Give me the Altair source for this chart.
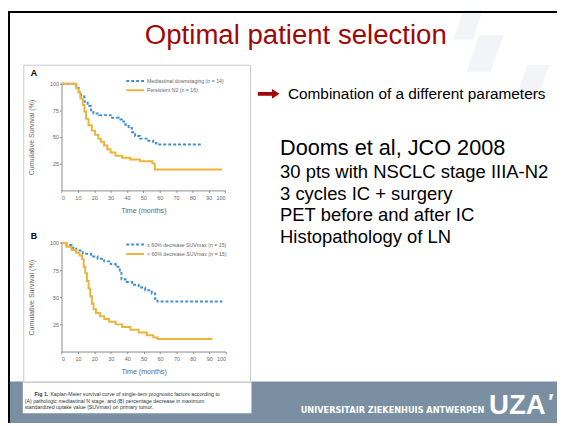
import altair as alt
import pandas as pd

W, H = 557, 418
FONT = "Liberation Sans"

# ---------------- data ----------------
a_labels = ["Mediastinal downstaging (n = 14)", "Persistent N2 (n = 16)"]
a_down_t = [0, 9, 10.5, 12, 14, 16, 18, 19.5, 23, 30, 35, 37, 39, 41, 43, 45, 48, 52, 56, 58, 86]
a_down_s = [100, 96, 92, 88, 83, 79, 75, 72, 70.5, 68, 66.5, 64.5, 61.5, 58.5, 54.5, 51, 48.5, 46.5, 44.5, 43, 43]
a_n2_t = [0, 9, 10.5, 11.5, 13, 14, 15, 16.5, 18.5, 20.5, 22.5, 24, 26, 28, 30, 33, 37, 42, 48, 55.5, 57, 98]
a_n2_s = [100, 95.5, 92, 86, 80, 74, 67, 61, 56, 52, 48.5, 45.5, 42, 38.5, 35.5, 32.5, 30.5, 29, 27.3, 25.3, 19.5, 19.5]

b_labels = ["\u2265 60% decrease SUVmax (n = 15)", "< 60% decrease SUVmax (n = 15)"]
b_hi_t = [0, 3, 6, 9, 13, 18, 22, 26, 30, 33, 35.5, 36.5, 39, 43, 47, 51, 55, 57, 58.5, 98]
b_hi_s = [100, 98, 95.5, 93, 90, 87.5, 85.5, 83, 80.5, 78, 74.5, 66.5, 64, 61.5, 59, 56.5, 53.5, 48.5, 46, 46]
b_lo_t = [0, 3, 6, 9, 11, 12.5, 13.5, 14.5, 15.5, 16.5, 17.5, 18.5, 19.5, 21, 23.5, 26, 29, 33, 37, 42, 47, 52, 56, 58.5, 92]
b_lo_s = [100, 96.5, 93.5, 91, 88.5, 85, 78, 72, 65, 58, 51, 44, 39, 35.5, 32.5, 30, 27.5, 25, 22.5, 20, 17.5, 15, 13, 11.5, 11.5]

x_ticks = [0, 10, 20, 30, 40, 50, 60, 70, 80, 90, 100]
y_ticks = [25, 50, 75, 100]

title_text = "Optimal patient selection"
arrow_text = "Combination of a different parameters"
ref_head = "Dooms et al, JCO 2008"
ref_lines = ["30 pts with NSCLC stage IIIA-N2", "3 cycles IC + surgery",
             "PET before and after IC", "Histopathology of LN"]
caption_bold = "Fig 1."
caption_lines = ["Kaplan-Meier survival curve of single-item prognostic factors according to",
                 "(A) pathologic mediastinal N stage, and (B) percentage decrease in maximum",
                 "standardized uptake value (SUVmax) on primary tumor."]
footer_text = "UNIVERSITAIR ZIEKENHUIS ANTWERPEN"
logo_text = "UZA"

BLUE = "#3f8fd4"
GOLD = "#ecb43a"
RED = "#a00808"
BAND = "#7b8fa2"

one = alt.Data(values=[{"k": 1}])


def txt(s, x, y, size, color="#000", weight="normal", align="left", font=FONT, baseline="alphabetic"):
    return alt.Chart(one).mark_text(
        text=s, align=align, baseline=baseline, fontSize=size, color=color,
        fontWeight=weight, font=font
    ).encode(x=alt.value(x), y=alt.value(y))


def rect(x, x2, y, y2, **kw):
    return alt.Chart(one).mark_rect(**kw).encode(
        x=alt.value(x), x2=alt.value(x2), y=alt.value(y), y2=alt.value(y2))


def km(labels, series, xr, yr, legend_x, legend_y):
    rows = []
    for lab, (ts, ss) in zip(labels, series):
        for t, s in zip(ts, ss):
            rows.append({"t": t, "s": s, "g": lab})
    df = pd.DataFrame(rows)
    leg = alt.Legend(orient="none", legendX=legend_x, legendY=legend_y, title=None,
                     symbolType="M-3,0H3", symbolSize=36, symbolStrokeWidth=2,
                     labelFontSize=5.3, labelColor="#666", labelFont=FONT,
                     labelOffset=8, rowPadding=1.5, padding=0)
    axis_common = dict(domainColor="#8a8a8a", tickColor="#8a8a8a", tickSize=2,
                       labelFontSize=5.5, labelColor="#666", labelFont=FONT,
                       titleFont=FONT, titleFontSize=7.2, titleColor="#666",
                       titleFontWeight="normal", grid=False)
    return alt.Chart(df).mark_line(interpolate="step-after", strokeWidth=2).encode(
        x=alt.X("t:Q", title="Time (months)",
                scale=alt.Scale(domain=[0, 100], range=xr, nice=False, zero=False),
                axis=alt.Axis(orient="bottom", offset=yr[0] - H, values=x_ticks,
                              labelPadding=3, titlePadding=6, **axis_common)),
        y=alt.Y("s:Q", title="Cumulative Survival (%)",
                scale=alt.Scale(domain=[0, 100], range=yr, nice=False),
                axis=alt.Axis(orient="left", offset=-xr[0], values=y_ticks,
                              labelPadding=1, titlePadding=14, **axis_common)),
        color=alt.Color("g:N", scale=alt.Scale(domain=labels, range=[BLUE, GOLD]), legend=leg),
        strokeDash=alt.StrokeDash("g:N", scale=alt.Scale(domain=labels, range=[[3, 2], [1, 0]]), legend=leg),
        order=alt.Order("t:Q"),
    )


km_a = km(a_labels, [(a_down_t, a_down_s), (a_n2_t, a_n2_s)], [54.3, 220.3], [182, 73.7], 125, 67)
km_b = km(b_labels, [(b_hi_t, b_hi_s), (b_lo_t, b_lo_s)], [54.3, 220.8], [345.5, 235.3], 125, 233)

# ---------------- decorations ----------------
stripe_path = "M-0.3,-1 L1,-1 L0.3,1 L-1,1 Z"
stripes = alt.Chart(alt.Data(values=[
    {"px": 467, "py": 14, "sz": 900},
    {"px": 484, "py": 43, "sz": 1400},
    {"px": 532, "py": 72, "sz": 1200},
])).mark_point(shape=stripe_path, filled=True, color="#eef0f3", opacity=0.7).encode(
    x=alt.X("px:Q", scale=None), y=alt.Y("py:Q", scale=None), size=alt.Size("sz:Q", scale=None))

band = rect(0, W, 376, H, color=BAND)
cap_box = rect(15, 247, 376, 408, color="white")
frame = rect(16, 246, 55, 377, fill="white", fillOpacity=0, stroke="#c8c8c8", strokeWidth=1)
top_line = rect(0, W, 0, 2, color="#000")
left_line = rect(0, 2, 0, H, color="#000")

title = txt(title_text, 292, 33.5, 28, color=RED, align="center")
arrow = alt.Chart(one).mark_point(
    shape="M-1,-0.17 L0.3,-0.17 L0.3,-0.45 L1,0 L0.3,0.45 L0.3,0.17 L-1,0.17 Z",
    filled=True, color=RED, size=484, opacity=1).encode(x=alt.value(264.5), y=alt.value(84))
arrow_t = txt(arrow_text, 284, 89, 15.6)
head_t = txt(ref_head, 276, 146, 22)
ref_ts = [txt(s, 276, 169.5 + 22 * i, 18.7) for i, s in enumerate(ref_lines)]

label_a = txt("A", 23, 63, 9, weight="bold", baseline="middle")
label_b = txt("B", 23, 228, 9, weight="bold", baseline="middle")

cap_b = txt(caption_bold, 27, 389, 5.3, color="#333", weight="bold", baseline="middle")
cap_ts = [txt(caption_lines[0], 43, 389, 5.3, color="#333", baseline="middle"),
          txt(caption_lines[1], 17, 395.5, 5.3, color="#333", baseline="middle"),
          txt(caption_lines[2], 17, 402, 5.3, color="#333", baseline="middle")]

footer = txt(footer_text, 297, 408, 8.3, color="white", weight="bold", font="DejaVu Sans")
logo = txt(logo_text, 488, 408.5, 28, color="white", weight="bold")
logo_mark = txt("\u2032", 548, 404, 22, color="white", weight="bold")

layers = [band, cap_box, stripes, frame, top_line, left_line, title, arrow, arrow_t, head_t,
          *ref_ts, label_a, label_b, cap_b, *cap_ts, footer, logo, logo_mark, km_a, km_b]

chart = alt.layer(*layers).resolve_scale(
    x="independent", y="independent", color="independent", strokeDash="independent", size="independent"
).properties(
    width=W, height=H, padding=0, autosize=alt.AutoSizeParams(type="none"), background="white"
).configure_view(stroke=None)

chart.save("out.html", embed_options={"renderer": "svg", "actions": False})
